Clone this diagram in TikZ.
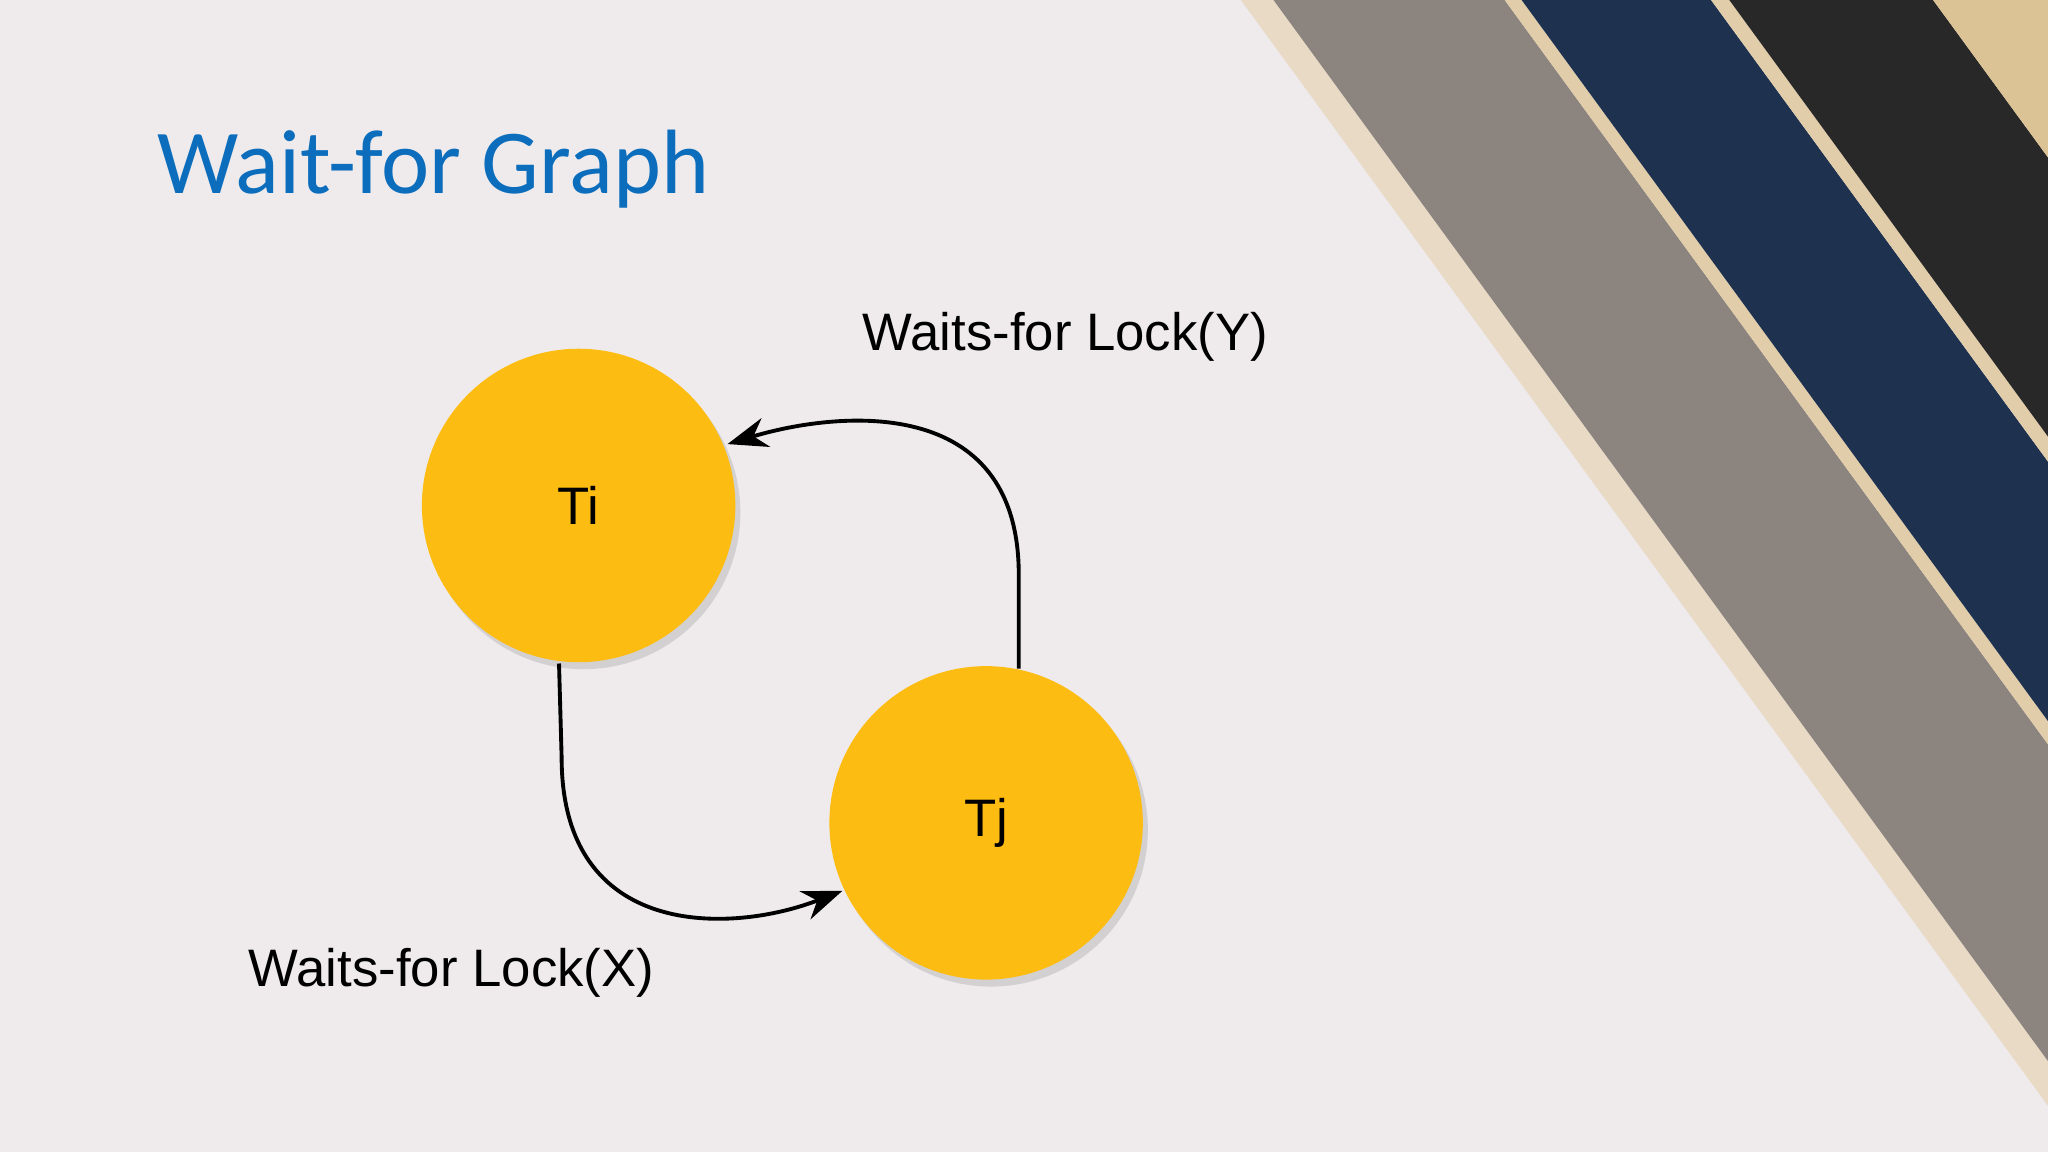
\documentclass[tikz,border=0pt]{standalone}
\usepackage{fontspec}
\setmainfont{Liberation Sans}
\newfontfamily\titlefont{Carlito}
\usetikzlibrary{arrows.meta,shadows}
\definecolor{bg}{HTML}{EFEBED}
\definecolor{ttl}{HTML}{0B6DBB}
\definecolor{gold}{HTML}{FDBC12}
\tikzset{
  tnode/.style={circle,fill=gold,minimum size=240*0.013061cm,inner sep=0pt,font=\fontsize{15}{18}\selectfont,
    drop shadow={shadow xshift=0.5mm,shadow yshift=-0.7mm,opacity=0.25}},
  wait/.style={line width=1.1pt,-{Stealth[length=4mm,width=3mm]}},
  lbl/.style={font=\fontsize{15}{18}\selectfont,inner sep=0pt}
}
\begin{document}
\begin{tikzpicture}[x=0.013061cm,y=-0.013061cm]
\useasboundingbox (0,0) rectangle (1568,882);
\fill[bg] (0,0) rectangle (1568,882);
% stripes
\def\s{1.37}
\fill[fill={rgb,255:red,233;green,218;blue,198}] (950,0)--(975,0)--(1568,{(1568-975)*\s})--(1568,{(1568-950)*\s})--cycle;
\fill[fill={rgb,255:red,140;green,132;blue,126}] (975,0)--(1152,0)--(1568,{(1568-1152)*\s})--(1568,{(1568-975)*\s})--cycle;
\fill[fill={rgb,255:red,225;green,205;blue,170}] (1152,0)--(1165,0)--(1568,{(1568-1165)*\s})--(1568,{(1568-1152)*\s})--cycle;
\fill[fill={rgb,255:red,30;green,50;blue,80}] (1165,0)--(1310,0)--(1568,{(1568-1310)*\s})--(1568,{(1568-1165)*\s})--cycle;
\fill[fill={rgb,255:red,225;green,205;blue,170}] (1310,0)--(1324,0)--(1568,{(1568-1324)*\s})--(1568,{(1568-1310)*\s})--cycle;
\fill[fill={rgb,255:red,40;green,40;blue,40}] (1324,0)--(1480,0)--(1568,{(1568-1480)*\s})--(1568,{(1568-1324)*\s})--cycle;
\fill[fill={rgb,255:red,220;green,195;blue,150}] (1480,0)--(1568,0)--(1568,{(1568-1480)*\s})--cycle;
% title
\node[anchor=base west,inner sep=0pt,text=ttl,font=\titlefont\fontsize{26}{30}\selectfont] (title) at (120,148) {Wait-for Graph};
% nodes
\node[tnode] (ti) at (443,387) {Ti};
\node[tnode] (tj) at (755,630) {Tj};
\node[lbl,anchor=base west] (ly) at (660,268) {Waits-for Lock(Y)};
\node[lbl,anchor=base west] (lx) at (190,755) {Waits-for Lock(X)};
\coordinate (a1) at (780,512);
\coordinate (a2) at (557,340);
\coordinate (b1) at (428,508);
\coordinate (b2) at (645,682);
\draw[wait] (a1) -- (780,440) .. controls (780,300) and (640,315) .. (a2);
\draw[wait] (b1) -- (430,580) .. controls (430,720) and (560,715) .. (b2);
\end{tikzpicture}
\end{document}
